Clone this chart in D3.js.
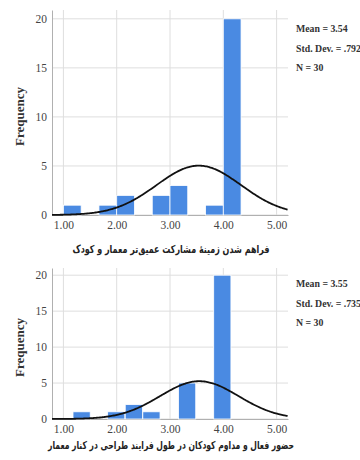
<!DOCTYPE html>
<html><head><meta charset="utf-8">
<script src="https://cdn.jsdelivr.net/npm/d3@7"></script>
<style>
body{margin:0;background:#fff;}
svg{display:block;}
</style></head>
<body>
<svg id="c" width="360" height="460"></svg>
<script>
// ---- data ----
const xTicks = [1, 2, 3, 4, 5];
const yTicks = [0, 5, 10, 15, 20];

const title1 = "فراهم شدن زمینهٔ مشارکت عمیق‌تر معمار و کودک";
const binStarts1 = [1.00, 1.667, 2.00, 2.667, 3.00, 3.667, 4.00];
const counts1 = [1, 1, 2, 2, 3, 1, 20];
const binWidth1 = 0.333;
const stats1 = {mean: 3.54, sd: 0.792, n: 30};
const statLabels1 = ["Mean = 3.54", "Std. Dev. = .792", "N = 30"];

const title2 = "حضور فعال و مداوم کودکان در طول فرایند طراحی در کنار معمار";
const binStarts2 = [1.18, 1.83, 2.16, 2.49, 3.16, 3.82];
const counts2 = [1, 1, 2, 1, 5, 20];
const binWidth2 = 0.323;
const stats2 = {mean: 3.55, sd: 0.735, n: 30};
const statLabels2 = ["Mean = 3.55", "Std. Dev. = .735", "N = 30"];

// ---- drawing ----
const svg = d3.select("#c");
const serif = "'Liberation Serif','Times New Roman',serif";

function panel(cfg) {
  const g = svg.append("g");
  const x = d3.scaleLinear().domain([0.786, 5.214]).range([52, 288]);
  const y = d3.scaleLinear().domain([0, cfg.yMax]).range([cfg.bottom, cfg.top]);

  // grid
  g.selectAll(".hg").data(yTicks).join("line")
    .attr("x1", 52).attr("x2", 288)
    .attr("y1", d => y(d)).attr("y2", d => y(d))
    .attr("stroke", "#dedede").attr("stroke-width", 1);
  g.selectAll(".vg").data(xTicks).join("line")
    .attr("x1", d => x(d)).attr("x2", d => x(d))
    .attr("y1", cfg.top).attr("y2", cfg.bottom)
    .attr("stroke", "#dedede").attr("stroke-width", 1);

  // axes
  const ya = g.append("g").attr("transform", "translate(52,0)")
    .call(d3.axisLeft(y).tickValues(yTicks).tickSize(0).tickPadding(5).tickFormat(d3.format("d")));
  ya.select(".domain").attr("stroke", "#b0b0b0");
  ya.selectAll("text").attr("font-family", serif).attr("font-size", 11.5).attr("fill", "#444");

  const xa = g.append("g").attr("transform", `translate(0,${cfg.bottom})`)
    .call(d3.axisBottom(x).tickValues(xTicks).tickSize(0).tickPadding(6).tickFormat(d3.format(".2f")));
  xa.select(".domain").attr("stroke", "#b0b0b0");
  xa.selectAll("text").attr("font-family", serif).attr("font-size", 11.5).attr("fill", "#444");

  // bars
  const bins = cfg.starts.map((s, i) => ({x0: s, x1: s + cfg.bw, c: cfg.counts[i]}));
  g.selectAll(".bar").data(bins).join("rect")
    .attr("x", d => x(d.x0)).attr("width", d => x(d.x1) - x(d.x0))
    .attr("y", d => y(d.c)).attr("height", d => y(0) - y(d.c))
    .attr("fill", "#4a8ae2").attr("stroke", "#fff").attr("stroke-width", 0.8);

  // normal curve
  const s = cfg.stats;
  const pdf = v => Math.exp(-0.5 * Math.pow((v - s.mean) / s.sd, 2)) / (s.sd * Math.sqrt(2 * Math.PI));
  const xs = d3.range(0.786, 5.2141, 0.02);
  const line = d3.line().x(d => x(d)).y(d => y(s.n * cfg.bw * pdf(d))).curve(d3.curveBasis);
  g.append("path").datum(xs).attr("d", line)
    .attr("fill", "none").attr("stroke", "#111").attr("stroke-width", 1.8);

  // y title
  g.append("text")
    .attr("transform", `translate(24,${(cfg.top + cfg.bottom) / 2 + 4}) rotate(-90)`)
    .attr("text-anchor", "middle").attr("font-family", serif)
    .attr("font-weight", "bold").attr("font-size", 13).attr("fill", "#333")
    .text("Frequency");

  // x title
  g.append("text")
    .attr("x", 171).attr("y", cfg.titleY).attr("text-anchor", "middle")
    .attr("direction", "rtl")
    .attr("font-family", "'DejaVu Sans',sans-serif").attr("font-weight", "bold")
    .attr("font-size", cfg.titleSize).attr("fill", "#222")
    .attr("textLength", cfg.titleLen).attr("lengthAdjust", "spacingAndGlyphs")
    .text(cfg.title);

  // stats
  g.selectAll(".st").data(cfg.statLabels).join("text")
    .attr("x", 296).attr("y", (d, i) => cfg.statY + i * 19.5)
    .attr("font-family", serif).attr("font-weight", "bold")
    .attr("font-size", 9.8).attr("fill", "#333")
    .text(d => d);
}

panel({top: 10, bottom: 215, yMax: 20.9, starts: binStarts1, counts: counts1, bw: binWidth1,
  stats: stats1, statLabels: statLabels1, title: title1, titleY: 253, titleSize: 11, titleLen: 197, statY: 32});
panel({top: 268, bottom: 419, yMax: 21, starts: binStarts2, counts: counts2, bw: binWidth2,
  stats: stats2, statLabels: statLabels2, title: title2, titleY: 449, titleSize: 11, titleLen: 246, statY: 287});
</script>
</body></html>
